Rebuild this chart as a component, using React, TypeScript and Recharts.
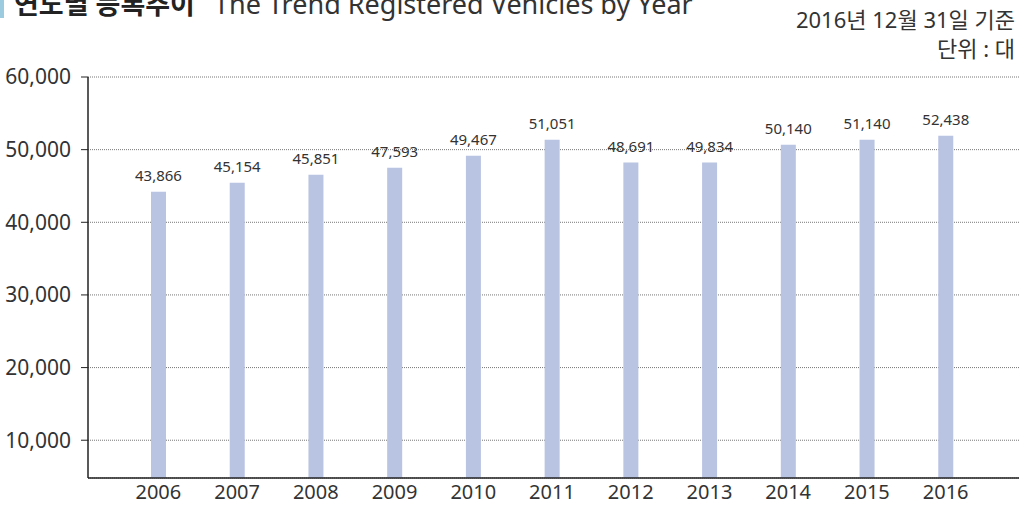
import React from 'react';
import { BarChart, Bar, XAxis, YAxis, CartesianGrid, LabelList } from 'recharts';

const years = ['2006', '2007', '2008', '2009', '2010', '2011', '2012', '2013', '2014', '2015', '2016'];
const barValues = [44194, 45434, 46536, 47500, 49153, 51356, 48230, 48230, 50668, 51356, 51907];
const valueLabels = ['43,866', '45,154', '45,851', '47,593', '49,467', '51,051', '48,691', '49,834', '50,140', '51,140', '52,438'];
const yTicks = [10000, 20000, 30000, 40000, 50000, 60000];

const data = years.map((y, i) => ({ year: y, value: barValues[i], label: valueLabels[i] }));

const FONT = "'Noto Sans', 'Noto Sans CJK KR', sans-serif";
const fmt = (v: number) => v.toLocaleString('en-US');

export default function App() {
  return (
    <div style={{ position: 'absolute', left: 0, top: 0, width: 1024, height: 506, background: '#fff', fontFamily: FONT }}>
      <BarChart
        width={1024}
        height={506}
        data={data}
        margin={{ top: 77, right: 5, bottom: 0, left: 0 }}
        barSize={15}
      >
        <CartesianGrid vertical={false} stroke="#777" strokeDasharray="1 1" />
        <XAxis
          dataKey="year"
          height={28}
          padding={{ left: 31, right: 34 }}
          tickLine={false}
          tickSize={0}
          tickMargin={7}
          axisLine={{ stroke: '#222', strokeWidth: 1.5 }}
          tick={{ fontSize: 20, fill: '#333', fontFamily: FONT }}
          interval={0}
        />
        <YAxis
          width={88}
          domain={[4800, 60000]}
          ticks={yTicks}
          tickFormatter={fmt}
          tickSize={7}
          tickMargin={10}
          tickLine={{ stroke: '#222' }}
          axisLine={{ stroke: '#222', strokeWidth: 1.5 }}
          tick={{ fontSize: 21, fill: '#333', fontFamily: FONT }}
          allowDataOverflow
        />
        <Bar dataKey="value" fill="#b9c3e2" isAnimationActive={false}>
          <LabelList dataKey="label" position="top" offset={11} style={{ fontSize: 15, fill: '#333', fontFamily: FONT }} />
        </Bar>
      </BarChart>
      <svg width={1024} height={70} style={{ position: 'absolute', left: 0, top: 0, pointerEvents: 'none' }}>
        <rect x={0} y={0} width={4} height={18} fill="#9ccbe0" />
        <text x={14} y={14} fontSize={27} fontWeight={700} fill="#222" fontFamily={FONT}>연도별 등록추이</text>
        <text x={214} y={14} fontSize={27} fill="#333" fontFamily={FONT}>The Trend Registered Vehicles by Year</text>
        <text x={1015} y={28} fontSize={22} fill="#333" textAnchor="end" fontFamily={FONT}>2016년 12월 31일 기준</text>
        <text x={1015} y={57} fontSize={22} fill="#333" textAnchor="end" fontFamily={FONT}>단위 :  대</text>
      </svg>
    </div>
  );
}
